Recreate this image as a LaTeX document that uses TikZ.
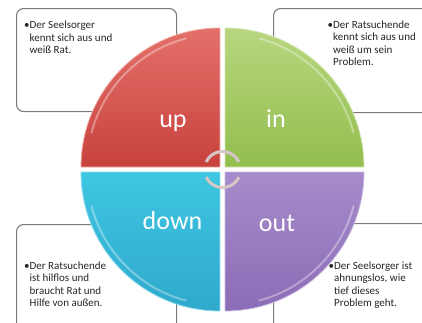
\documentclass[tikz,border=0pt]{standalone}
\usepackage{fontspec}
\setmainfont{Carlito}
\definecolor{redtop}{HTML}{E4706A}
\definecolor{redbot}{HTML}{C8423D}
\definecolor{greentop}{HTML}{B8D67E}
\definecolor{greenbot}{HTML}{92BE4E}
\definecolor{bluetop}{HTML}{3EC6E2}
\definecolor{bluebot}{HTML}{2FA9CC}
\definecolor{purptop}{HTML}{A68BCC}
\definecolor{purpbot}{HTML}{8B6CB6}
\definecolor{boxline}{HTML}{7F7878}
\definecolor{arcgray}{HTML}{D6C6C6}
\tikzset{
  infobox/.style={draw=boxline, line width=1.1pt, fill=white, rounded corners=7pt,
    inner sep=0pt, anchor=north west},
  quadlabel/.style={text=white, font=\fontsize{26}{30}\selectfont, anchor=base, inner sep=0pt},
  bullettext/.style={font=\fontsize{11}{12.5}\selectfont, anchor=north west, inner sep=0pt, text=black!85},
  highlight/.style={white, opacity=0.35, line width=2pt, line cap=round},
  centerarc/.style={arcgray, line width=3pt}
}
\begin{document}
\begin{tikzpicture}[x=1pt,y=-1pt]
\useasboundingbox (0,0) rectangle (422,322);
% info boxes (behind circle)
\node[infobox, minimum width=160pt, minimum height=103pt] (boxTL) at (16,8) {};
\node[infobox, minimum width=170pt, minimum height=104pt] (boxTR) at (273,8) {};
\node[infobox, minimum width=160pt, minimum height=120pt] (boxBL) at (16,224) {};
\node[infobox, minimum width=170pt, minimum height=120pt] (boxBR) at (273,223) {};
% texts
\node[bullettext] (txtTL) at (24,19.75) {\begin{tabular}{@{}l@{}l@{}}\textbullet&Der Seelsorger\\&kennt sich aus und\\&weiß Rat.\end{tabular}};
\node[bullettext] (txtTR) at (327.5,19.5) {\begin{tabular}{@{}l@{}l@{}}\textbullet&Der Ratsuchende\\&kennt sich aus und\\&weiß um sein\\&Problem.\end{tabular}};
\node[bullettext] (txtBL) at (24,260.5) {\begin{tabular}{@{}l@{}l@{}}\textbullet&Der Ratsuchende\\&ist hilflos und\\&braucht Rat und\\&Hilfe von außen.\end{tabular}};
\node[bullettext] (txtBR) at (328.5,260.5) {\begin{tabular}{@{}l@{}l@{}}\textbullet&Der Seelsorger ist\\&ahnungslos, wie\\&tief dieses\\&Problem geht.\end{tabular}};
% quadrants
\begin{scope}[shift={(222.5,169.5)}, x=1pt, y=1pt]
  \shade[top color=redtop, bottom color=redbot, draw=redtop!60!white, line width=0.8pt]
    (-2.5,2.5) -- ++(-139,0) arc[start angle=180, end angle=90, radius=139] -- cycle;
  \shade[top color=greentop, bottom color=greenbot, draw=greentop!60!white, line width=0.8pt]
    (2.5,2.5) -- ++(0,139) arc[start angle=90, end angle=0, radius=139] -- cycle;
  \shade[top color=bluetop, bottom color=bluebot, draw=bluetop!60!white, line width=0.8pt]
    (-2.5,-2.5) -- ++(0,-139) arc[start angle=270, end angle=180, radius=139] -- cycle;
  \shade[top color=purptop, bottom color=purpbot, draw=purptop!60!white, line width=0.8pt]
    (2.5,-2.5) -- ++(139,0) arc[start angle=0, end angle=-90, radius=139] -- cycle;
  % highlights
  \draw[highlight] (-2.5,2.5) ++(165:133) arc[start angle=165, end angle=105, radius=133];
  \draw[highlight] (2.5,2.5) ++(75:133) arc[start angle=75, end angle=15, radius=133];
  \draw[highlight] (-2.5,-2.5) ++(255:133) arc[start angle=255, end angle=195, radius=133];
  \draw[highlight] (2.5,-2.5) ++(-15:133) arc[start angle=-15, end angle=-75, radius=133];
  % center circular arrows
  \draw[centerarc] (155:18) arc[start angle=155, end angle=25, radius=18];
  \draw[centerarc] (205:18) arc[start angle=205, end angle=335, radius=18];
\end{scope}
% labels
\node[quadlabel] (lup) at (173,127) {up};
\node[quadlabel] (lin) at (276,127) {in};
\node[quadlabel] (ldown) at (172.5,229) {down};
\node[quadlabel] (lout) at (277,231) {out};
\end{tikzpicture}
\end{document}
